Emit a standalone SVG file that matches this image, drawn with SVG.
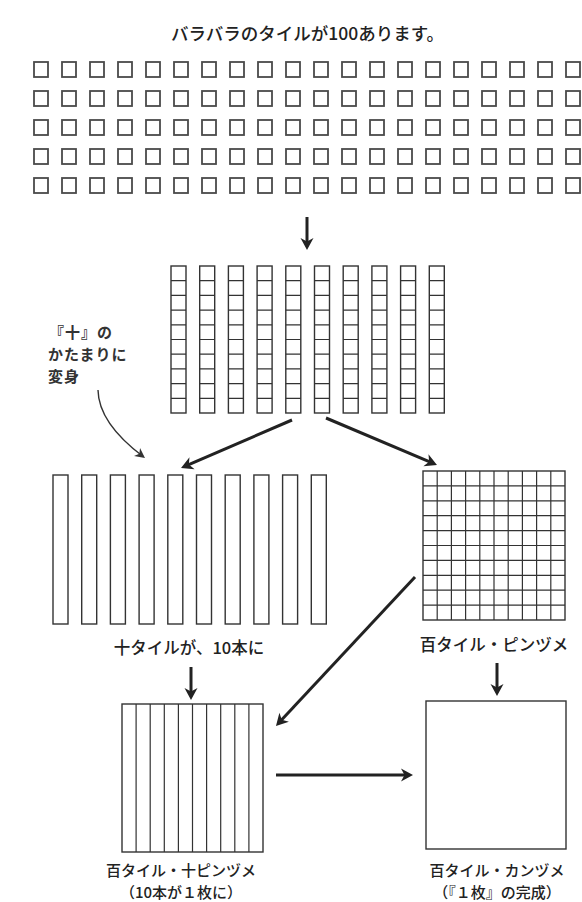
<svg xmlns="http://www.w3.org/2000/svg" xmlns:xlink="http://www.w3.org/1999/xlink" width="582" height="902" viewBox="0 0 582 902">
<style>
.t{font-family:"Noto Sans CJK JP","Noto Sans",sans-serif;fill:#222;font-size:16.5px;font-weight:500}
.ttl{font-size:17.5px}
.ann{font-weight:bold;font-size:15px;fill:#333}
.sm{font-size:15px}
.sq{fill:none;stroke:#4a4a4a;stroke-width:1.8}
.st{fill:none;stroke:#333;stroke-width:1.4}
.ln{stroke:#333;stroke-width:1.2}
.ar{fill:none;stroke:#222;stroke-width:3}
.cv{fill:none;stroke:#333;stroke-width:1.4}
</style>
<defs>
<marker id="ah" markerUnits="userSpaceOnUse" markerWidth="16" markerHeight="16" viewBox="-13 -8 14 16" refX="-4" refY="0" orient="auto">
<path d="M0,0 L-12,-6.5 L-8.5,0 L-12,6.5 Z" fill="#222"/>
</marker>
<marker id="ahs" markerUnits="userSpaceOnUse" markerWidth="14" markerHeight="14" viewBox="-11 -7 12 14" refX="-2" refY="0" orient="auto">
<path d="M0,0 L-10,-5 L-7,0 L-10,5 Z" fill="#333"/>
</marker>
<rect id="tile" width="14" height="15" class="sq"/>
<g id="row">
<use xlink:href="#tile" x="0"/><use xlink:href="#tile" x="28"/><use xlink:href="#tile" x="56"/><use xlink:href="#tile" x="84"/><use xlink:href="#tile" x="112"/>
<use xlink:href="#tile" x="140"/><use xlink:href="#tile" x="168"/><use xlink:href="#tile" x="196"/><use xlink:href="#tile" x="224"/><use xlink:href="#tile" x="252"/>
<use xlink:href="#tile" x="280"/><use xlink:href="#tile" x="308"/><use xlink:href="#tile" x="336"/><use xlink:href="#tile" x="364"/><use xlink:href="#tile" x="392"/>
<use xlink:href="#tile" x="420"/><use xlink:href="#tile" x="448"/><use xlink:href="#tile" x="476"/><use xlink:href="#tile" x="504"/><use xlink:href="#tile" x="532"/>
</g>
<g id="cstrip">
<rect x="0" y="0" width="15" height="147" class="st"/>
<path d="M0,14.7H15M0,29.4H15M0,44.1H15M0,58.8H15M0,73.5H15M0,88.2H15M0,102.9H15M0,117.6H15M0,132.3H15" class="ln"/>
</g>
<rect id="pstrip" x="0" y="0" width="15" height="149" class="st"/>
</defs>
<rect width="582" height="902" fill="#fff"/>

<g id="title">
<text class="t ttl" x="171" y="40">バラバラのタイルが100あります。</text>
</g>

<g id="tiles100">
<use xlink:href="#row" x="34" y="62"/>
<use xlink:href="#row" x="34" y="91"/>
<use xlink:href="#row" x="34" y="120"/>
<use xlink:href="#row" x="34" y="149"/>
<use xlink:href="#row" x="34" y="178"/>
</g>

<g id="ten-columns">
<use xlink:href="#cstrip" x="171" y="266"/>
<use xlink:href="#cstrip" x="199.7" y="266"/>
<use xlink:href="#cstrip" x="228.4" y="266"/>
<use xlink:href="#cstrip" x="257.1" y="266"/>
<use xlink:href="#cstrip" x="285.8" y="266"/>
<use xlink:href="#cstrip" x="314.5" y="266"/>
<use xlink:href="#cstrip" x="343.2" y="266"/>
<use xlink:href="#cstrip" x="371.9" y="266"/>
<use xlink:href="#cstrip" x="400.6" y="266"/>
<use xlink:href="#cstrip" x="429.3" y="266"/>
</g>

<g id="annotation">
<text class="t ann" x="49" y="338" letter-spacing="1">『十』の</text>
<text class="t ann" x="48" y="360" letter-spacing="1">かたまりに</text>
<text class="t ann" x="48" y="382" letter-spacing="1">変身</text>
</g>

<g id="ten-tiles">
<use xlink:href="#pstrip" x="53" y="475"/>
<use xlink:href="#pstrip" x="81.7" y="475"/>
<use xlink:href="#pstrip" x="110.4" y="475"/>
<use xlink:href="#pstrip" x="139.1" y="475"/>
<use xlink:href="#pstrip" x="167.8" y="475"/>
<use xlink:href="#pstrip" x="196.5" y="475"/>
<use xlink:href="#pstrip" x="225.2" y="475"/>
<use xlink:href="#pstrip" x="253.9" y="475"/>
<use xlink:href="#pstrip" x="282.6" y="475"/>
<use xlink:href="#pstrip" x="311.3" y="475"/>
<text class="t" x="189" y="654" text-anchor="middle">十タイルが、10本に</text>
</g>

<g id="hundred-pinzume">
<rect x="423" y="471" width="142" height="149" class="st"/>
<path class="ln" d="M437.2,471V620M451.4,471V620M465.6,471V620M479.8,471V620M494,471V620M508.2,471V620M522.4,471V620M536.6,471V620M550.8,471V620
M423,485.9H565M423,500.8H565M423,515.7H565M423,530.6H565M423,545.5H565M423,560.4H565M423,575.3H565M423,590.2H565M423,605.1H565"/>
<text class="t" x="494" y="651" text-anchor="middle">百タイル・ピンヅメ</text>
</g>

<g id="hundred-jupinzume">
<rect x="122" y="704" width="141" height="148" class="st"/>
<path class="ln" d="M136.1,704V852M150.2,704V852M164.3,704V852M178.4,704V852M192.5,704V852M206.6,704V852M220.7,704V852M234.8,704V852M248.9,704V852"/>
<text class="t sm" x="181" y="876" text-anchor="middle">百タイル・十ピンヅメ</text>
<text class="t sm" x="181" y="898" text-anchor="middle">（10本が１枚に）</text>
</g>

<g id="hundred-kanzume">
<rect x="426" y="701" width="140" height="148" class="st"/>
<text class="t sm" x="497" y="876" text-anchor="middle">百タイル・カンヅメ</text>
<text class="t sm" x="497" y="898" text-anchor="middle">（『１枚』の完成）</text>
</g>

<g id="connectors">
<line class="ar" x1="307" y1="217" x2="307" y2="246" marker-end="url(#ah)"/>
<line class="ar" x1="292" y1="420" x2="184.7" y2="466.4" marker-end="url(#ah)"/>
<line class="ar" x1="326" y1="418" x2="433.3" y2="463.4" marker-end="url(#ah)"/>
<path class="cv" d="M98,390 Q98.5,423 143.4,456.8" marker-end="url(#ahs)"/>
<line class="ar" x1="191" y1="667" x2="191" y2="696" marker-end="url(#ah)"/>
<line class="ar" x1="497" y1="663" x2="497" y2="692" marker-end="url(#ah)"/>
<line class="ar" x1="415" y1="577" x2="278.7" y2="723.1" marker-end="url(#ah)"/>
<line class="ar" x1="276" y1="775" x2="409" y2="775" marker-end="url(#ah)"/>
</g>
</svg>
